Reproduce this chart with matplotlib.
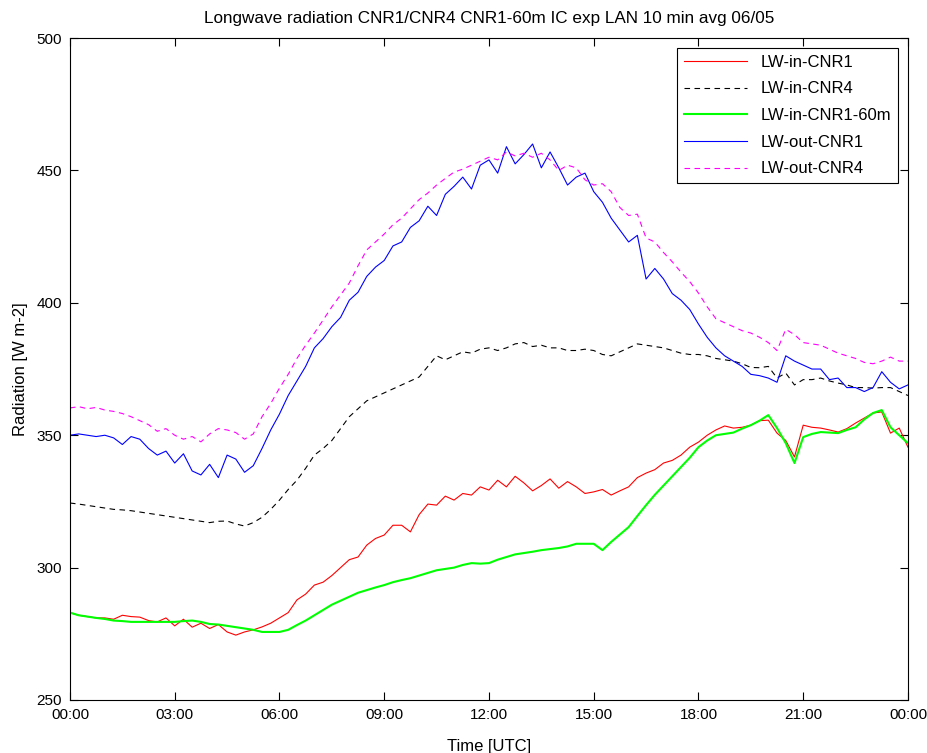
import numpy as np
import matplotlib
matplotlib.use("Agg")
import matplotlib.pyplot as plt

# 15-min samples, 00:00 to 24:00 (hours)
hours = np.arange(0, 24.01, 0.25)

lw_in_cnr1 = [
    283.0, 282.0, 281.5, 281.0, 281.0, 280.5, 282.0, 281.5,
    281.3, 280.0, 279.5, 281.0, 278.0, 280.5, 277.5, 279.0,
    277.0, 278.5, 275.7, 274.5, 275.7, 276.5, 277.6, 279.0,
    281.0, 283.0, 287.8, 290.0, 293.4, 294.5, 297.0, 300.0,
    303.0, 304.0, 308.5, 311.0, 312.3, 316.0, 316.0, 313.5,
    320.0, 324.0, 323.6, 327.0, 325.5, 328.0, 327.4, 330.5,
    329.3, 333.0, 330.5, 334.5, 332.0, 329.0, 331.0, 333.5,
    330.0, 332.5, 330.5, 328.0, 328.6, 329.5, 327.4, 329.0,
    330.5, 334.0, 335.7, 337.0, 339.5, 340.5, 342.5, 345.5,
    347.4, 350.0, 352.0, 353.5, 352.7, 353.0, 353.8, 355.5,
    355.7, 350.8, 348.0, 341.8, 353.8, 353.0, 352.7, 352.0,
    351.2, 352.5, 354.6, 356.5, 358.4, 358.8, 350.8, 352.7,
    345.5,
]

lw_in_cnr4 = [
    324.4, 324.0, 323.5, 323.0, 322.5, 322.0, 321.8, 321.5,
    321.0, 320.5, 320.0, 319.5, 319.0, 318.5, 318.0, 317.5,
    317.0, 317.5, 317.6, 316.5, 315.7, 317.0, 319.0, 322.0,
    325.5, 329.5, 333.0, 337.5, 342.5, 345.0, 348.0, 352.5,
    357.0, 360.0, 363.0, 364.5, 366.0, 367.5, 369.0, 370.5,
    372.0, 376.0, 380.0, 378.5, 380.0, 381.5, 381.0, 382.5,
    383.0, 382.0, 383.0, 384.5, 385.0, 383.5, 384.0, 383.0,
    383.0, 382.0, 382.0, 382.5, 382.0, 380.5, 380.0, 381.5,
    383.0, 384.5, 384.0, 383.5, 383.0, 382.0, 381.0, 380.5,
    380.5, 380.0, 379.0, 378.5, 378.0, 377.0, 375.6, 375.5,
    376.0, 371.6, 373.5, 369.0, 371.0, 371.0, 371.6, 370.5,
    369.7, 369.0, 368.0, 368.0, 367.8, 368.0, 368.0, 366.5,
    365.0,
]

lw_in_cnr1_60m = [
    283.0, 282.0, 281.5, 281.0, 280.6, 280.0, 279.8, 279.5,
    279.5, 279.5, 279.5, 279.5, 279.5, 279.8, 280.0, 279.5,
    278.7, 278.5, 278.0, 277.5, 277.0, 276.5, 275.7, 275.7,
    275.7, 276.5, 278.3, 280.0, 282.0, 284.0, 286.0, 287.5,
    289.0, 290.5, 291.5, 292.5, 293.4, 294.5, 295.3, 296.0,
    297.0, 298.0, 299.0, 299.5, 300.0, 301.0, 301.7, 301.5,
    301.7, 303.0, 304.0, 305.0, 305.5, 306.0, 306.6, 307.0,
    307.4, 308.0, 309.0, 309.0, 309.0, 306.6, 309.7, 312.5,
    315.3, 319.5, 323.6, 327.5, 331.0, 334.5, 338.0, 341.5,
    345.5, 348.0, 350.0, 350.5, 351.0, 352.5, 353.8, 355.5,
    357.6, 352.7, 347.0, 339.5, 349.3, 350.5, 351.2, 351.0,
    350.8, 352.0, 353.0, 356.0, 358.4, 359.5, 353.0, 350.0,
    347.0,
]

lw_out_cnr1 = [
    350.0, 350.5, 350.0, 349.5, 350.0, 349.0, 346.5, 349.5,
    348.5, 345.0, 342.5, 344.0, 339.5, 343.0, 336.5, 335.0,
    339.0, 334.0, 342.5, 341.0, 336.0, 338.5, 345.0, 352.0,
    358.0, 365.0, 370.5, 376.0, 383.0, 386.5, 391.0, 394.5,
    401.0, 404.0, 410.0, 413.5, 416.0, 421.5, 423.0, 428.5,
    431.0, 436.5, 433.0, 441.0, 444.0, 447.5, 443.0, 452.0,
    454.0, 449.0, 459.0, 452.5, 456.0, 460.0, 451.0, 457.0,
    451.0, 444.5, 447.5, 449.0, 442.0, 438.0, 432.0, 427.5,
    423.0, 425.5, 409.0, 413.0, 409.0, 403.5, 401.0, 397.5,
    392.0, 387.0, 383.0, 380.0, 378.0, 376.0, 373.0, 372.5,
    371.6, 370.0, 380.0, 378.0, 376.5, 375.0, 375.0, 371.0,
    371.6, 368.0, 368.0, 366.5, 368.0, 374.0, 370.0, 367.5,
    369.0,
]

lw_out_cnr4 = [
    360.3, 360.8, 360.0, 360.5, 359.5, 359.0, 358.2, 357.0,
    355.5, 354.0, 351.5, 352.5, 350.0, 348.5, 349.5, 347.5,
    350.5, 352.5, 352.0, 351.0, 348.5, 350.5, 357.0, 362.0,
    367.8, 373.0, 379.0, 384.0, 388.6, 393.5, 398.5, 403.0,
    407.5, 414.0, 420.0, 423.0, 426.0, 429.5, 432.0, 435.5,
    439.0, 441.5, 444.5, 447.0, 449.4, 450.5, 452.0, 453.5,
    455.0, 454.0, 457.0, 455.5, 456.5, 455.0, 456.5, 454.0,
    450.0, 452.0, 451.0, 446.5, 444.5, 445.0, 442.0, 436.0,
    433.0, 433.5, 424.5, 423.0, 419.0, 415.5, 411.6, 408.0,
    403.7, 398.5, 394.0, 392.5, 391.0, 389.5, 388.6, 387.0,
    385.0, 382.0, 390.0, 388.0, 385.0, 384.5, 384.0, 382.5,
    381.0, 380.0, 379.0, 377.5, 377.0, 378.0, 379.5, 378.0,
    378.0,
]

tick_hours = [0, 3, 6, 9, 12, 15, 18, 21, 24]
tick_labels = ["00:00", "03:00", "06:00", "09:00", "12:00", "15:00", "18:00", "21:00", "00:00"]

plt.rcParams["font.family"] = ["Liberation Sans", "DejaVu Sans"]

fig = plt.figure(figsize=(9.28, 7.53), dpi=100)
ax = fig.add_axes([0.0754, 0.0704, 0.903, 0.879])

ax.plot(hours, lw_in_cnr1, color=(1, 0, 0), lw=0.8, label="LW-in-CNR1")
ax.plot(hours, lw_in_cnr4, color="black", lw=0.8, ls=(0, (5, 4)), label="LW-in-CNR4")
ax.plot(hours, lw_in_cnr1_60m, color=(0, 1, 0), lw=1.5, label="LW-in-CNR1-60m")
ax.plot(hours, lw_out_cnr1, color=(0, 0, 1), lw=0.8, label="LW-out-CNR1")
ax.plot(hours, lw_out_cnr4, color=(1, 0, 1), lw=0.8, ls=(0, (5, 4)), label="LW-out-CNR4")

ax.set_xlim(0, 24)
ax.set_ylim(250, 500)
ax.set_xticks(tick_hours)
ax.set_xticklabels(tick_labels)
ax.set_yticks([250, 300, 350, 400, 450, 500])
ax.tick_params(direction="in", top=True, right=True, length=6, labelsize=11, pad=6)
for s in ax.spines.values():
    s.set_linewidth(0.8)

ax.set_title("Longwave radiation CNR1/CNR4 CNR1-60m IC exp LAN 10 min avg 06/05", fontsize=12.3, pad=11)
ax.set_xlabel("Time [UTC]", fontsize=12, labelpad=12)
ax.set_ylabel("Radiation [W m-2]", fontsize=12, labelpad=6)

leg = ax.legend(loc="upper right", handlelength=3.8, labelspacing=0.7,
                fancybox=False, edgecolor="black", framealpha=1, borderaxespad=0.6,
                prop={"size": 12})
leg.get_frame().set_linewidth(0.8)

fig.savefig("out.png", dpi=100)
